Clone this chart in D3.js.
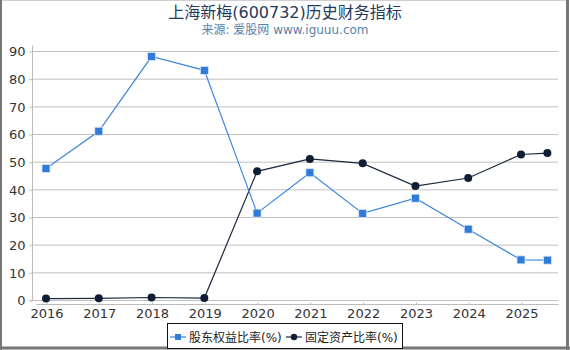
<!DOCTYPE html>
<html>
<head>
<meta charset="utf-8">
<script src="https://cdn.jsdelivr.net/npm/d3@7"></script>
<style>
  body { margin: 0; background: #fff; }
  text { font-family: "DejaVu Sans", "Noto Sans CJK SC", sans-serif; }
</style>
</head>
<body>
<svg id="chart"></svg>
<script>
// data
let years = [2016, 2017, 2018, 2019, 2020, 2021, 2022, 2023, 2024, 2025, 2025.5];
let equityRatio = [47.5, 61.0, 88.0, 83.0, 31.4, 46.0, 31.3, 36.8, 25.6, 14.5, 14.4];
let fixedAssetRatio = [0.5, 0.6, 0.9, 0.7, 46.5, 51.0, 49.4, 41.2, 44.1, 52.6, 53.1];
let yTicks = [0, 10, 20, 30, 40, 50, 60, 70, 80, 90];
let xTicks = [2016, 2017, 2018, 2019, 2020, 2021, 2022, 2023, 2024, 2025];

function makeChart() {
    let w = 570;
    let h = 350;

    let svg = d3.select('#chart')
        .attr('width', w)
        .attr('height', h);

    // outer frame
    svg.append('rect')
        .attr('x', 0.5).attr('y', 0.5)
        .attr('width', w - 3).attr('height', h - 3)
        .attr('fill', 'none').attr('stroke', '#d0d0d0');
    svg.append('line').attr('x1', 1).attr('x2', 1).attr('y1', 0).attr('y2', h)
        .attr('stroke', '#777').attr('stroke-width', 2);
    svg.append('line').attr('x1', 567.5).attr('x2', 567.5).attr('y1', 0).attr('y2', h)
        .attr('stroke', '#777').attr('stroke-width', 3);
    svg.append('line').attr('x1', 0).attr('x2', w).attr('y1', 348).attr('y2', 348)
        .attr('stroke', '#777').attr('stroke-width', 3);

    let xScale = d3.scaleLinear()
        .domain([2016, 2025])
        .range([46, 521]);

    let yScale = d3.scaleLinear()
        .domain([0, 90])
        .range([300, 51]);

    // grid
    svg.append('g')
        .selectAll('line')
        .data(yTicks)
        .enter()
        .append('line')
        .attr('x1', 32)
        .attr('x2', 558)
        .attr('y1', d => yScale(d) + 0.5)
        .attr('y2', d => yScale(d) + 0.5)
        .attr('stroke', '#c0c0c0');

    // y axis
    let yAxis = svg.append('g')
        .attr('transform', 'translate(32.5,0.5)')
        .call(d3.axisLeft(yScale).tickValues(yTicks).tickSize(3).tickPadding(4));
    yAxis.select('.domain').attr('stroke', '#bbb').attr('d', 'M-3,' + yScale(0) + 'H0V45');
    yAxis.selectAll('.tick line').attr('stroke', '#bbb');
    yAxis.selectAll('text').attr('font-size', 13).attr('fill', '#333');

    // x axis
    let xAxis = svg.append('g')
        .attr('transform', 'translate(0.5,304.5)')
        .call(d3.axisBottom(xScale).tickValues(xTicks).tickFormat(d3.format('d')).tickSize(0).tickPadding(4));
    xAxis.select('.domain').attr('stroke', '#bbb').attr('d', 'M36,0H558');
    xAxis.selectAll('.tick line').attr('y2', -2).attr('stroke', '#bbb');
    xAxis.selectAll('text').attr('font-size', 13).attr('fill', '#333');

    let line = (vals) => d3.line()
        .x((d, i) => xScale(years[i]))
        .y(d => yScale(d))(vals);

    // fixed asset ratio (dark)
    svg.append('path')
        .attr('d', line(fixedAssetRatio))
        .attr('fill', 'none')
        .attr('stroke', '#1b2a3d')
        .attr('stroke-width', 1.2);

    // equity ratio (blue)
    svg.append('path')
        .attr('d', line(equityRatio))
        .attr('fill', 'none')
        .attr('stroke', '#3d85dc')
        .attr('stroke-width', 1.2);

    svg.append('g')
        .selectAll('circle')
        .data(fixedAssetRatio)
        .enter()
        .append('circle')
        .attr('cx', (d, i) => xScale(years[i]))
        .attr('cy', d => yScale(d))
        .attr('r', 4)
        .attr('fill', '#0f1f33');

    svg.append('g')
        .selectAll('rect')
        .data(equityRatio)
        .enter()
        .append('rect')
        .attr('x', (d, i) => xScale(years[i]) - 4)
        .attr('y', d => yScale(d) - 4)
        .attr('width', 8)
        .attr('height', 8)
        .attr('fill', '#2f7bd8')
        .attr('stroke', '#d8e6f7')
        .attr('stroke-width', 0.8);

    // title
    svg.append('text')
        .attr('x', 285).attr('y', 18)
        .attr('text-anchor', 'middle')
        .attr('font-size', 16)
        .attr('fill', '#1e3a5c')
        .text('上海新梅(600732)历史财务指标');

    svg.append('text')
        .attr('x', 285).attr('y', 34)
        .attr('text-anchor', 'middle')
        .attr('font-size', 12)
        .attr('fill', '#5b7fa8')
        .text('来源: 爱股网 www.iguuu.com');

    // legend
    let lg = svg.append('g');
    lg.append('rect')
        .attr('x', 167.5).attr('y', 323.5)
        .attr('width', 235).attr('height', 25)
        .attr('fill', '#fff').attr('stroke', '#111');

    lg.append('line').attr('x1', 170).attr('x2', 186).attr('y1', 337).attr('y2', 337)
        .attr('stroke', '#3d85dc').attr('stroke-width', 1.2);
    lg.append('rect').attr('x', 175).attr('y', 334).attr('width', 6).attr('height', 6)
        .attr('fill', '#2f7bd8');
    lg.append('text').attr('x', 189).attr('y', 342)
        .attr('font-size', 12).attr('fill', '#222')
        .text('股东权益比率(%)');

    lg.append('line').attr('x1', 286).attr('x2', 302).attr('y1', 337).attr('y2', 337)
        .attr('stroke', '#1b2a3d').attr('stroke-width', 1.2);
    lg.append('circle').attr('cx', 294).attr('cy', 337).attr('r', 3.2)
        .attr('fill', '#0f1f33');
    lg.append('text').attr('x', 305).attr('y', 342)
        .attr('font-size', 12).attr('fill', '#222')
        .text('固定资产比率(%)');
}

window.onload = makeChart;
</script>
</body>
</html>
